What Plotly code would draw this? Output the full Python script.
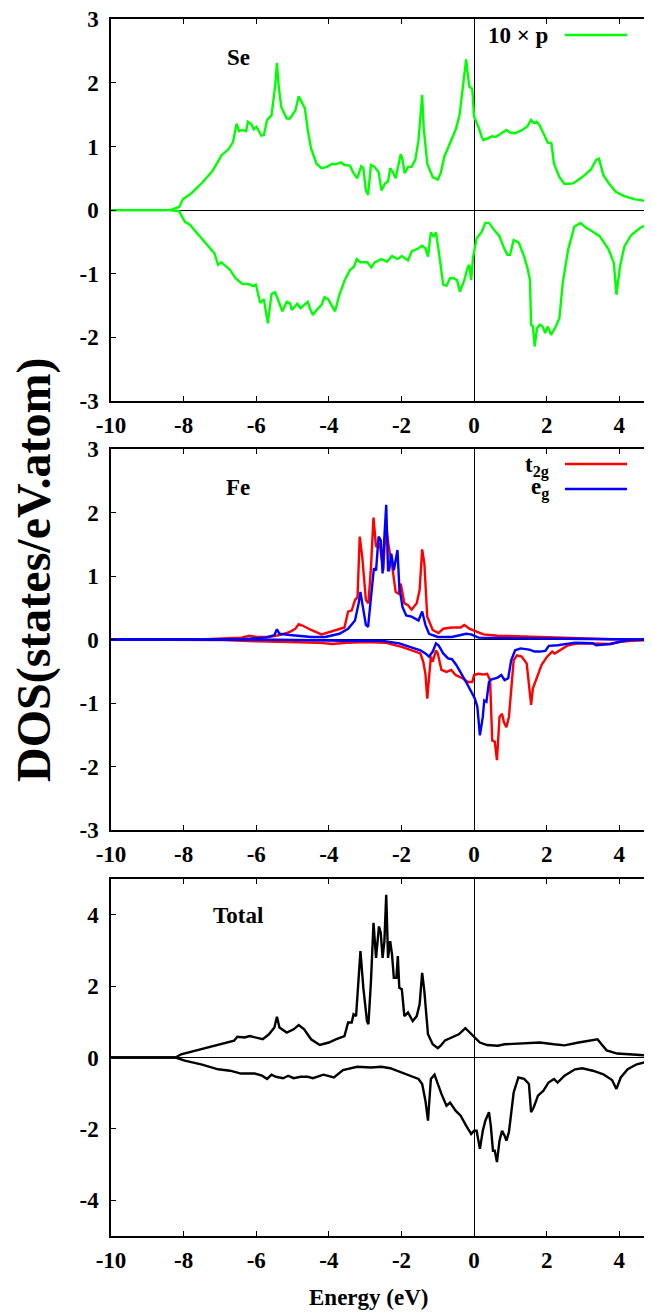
import plotly.graph_objects as go

# ---------------- data ----------------
se_up_e = [-10, -8.36, -8.22, -8.12, -8.02, -7.78, -7.49, -7.20, -6.96, -6.76, -6.64, -6.54, -6.47, -6.38, -6.28, -6.23,
           -6.13, -6.07, -5.99, -5.86, -5.79, -5.70, -5.58, -5.48, -5.43, -5.38, -5.31, -5.16, -5.07, -4.92, -4.83,
           -4.76, -4.66, -4.58, -4.49, -4.34, -4.20, -4.05, -3.91, -3.81, -3.66, -3.57, -3.42, -3.32, -3.22, -3.11,
           -3.05, -2.98, -2.92, -2.84, -2.74, -2.63, -2.55, -2.45, -2.37, -2.31, -2.24, -2.16, -2.11, -2.02, -1.97,
           -1.91, -1.82, -1.72, -1.62, -1.53, -1.43, -1.39, -1.29, -1.14, -1.00, -0.92, -0.82, -0.66, -0.51, -0.40,
           -0.32, -0.22, -0.17, -0.13, -0.05, 0.00, 0.12, 0.21, 0.26, 0.36, 0.50, 0.60, 0.75, 0.89, 0.99, 1.13, 1.33,
           1.47, 1.57, 1.64, 1.72, 1.80, 1.91, 2.03, 2.13, 2.20, 2.35, 2.49, 2.73, 2.98, 3.22, 3.36, 3.44, 3.56, 3.70,
           3.90, 4.14, 4.43, 4.67, 4.89]
se_up = [0, 0, 0.03, 0.05, 0.17, 0.27, 0.43, 0.62, 0.86, 0.96, 1.07, 1.36, 1.24, 1.26, 1.24, 1.39,
         1.35, 1.27, 1.31, 1.17, 1.18, 1.42, 1.49, 1.94, 2.31, 1.94, 1.62, 1.44, 1.44, 1.57, 1.79,
         1.70, 1.60, 1.26, 0.97, 0.73, 0.66, 0.68, 0.73, 0.72, 0.75, 0.71, 0.70, 0.58, 0.50, 0.69,
         0.66, 0.31, 0.24, 0.71, 0.68, 0.60, 0.31, 0.42, 0.45, 0.66, 0.60, 0.50, 0.66, 0.88, 0.79,
         0.58, 0.68, 0.68, 0.79, 1.10, 1.81, 1.31, 0.73, 0.52, 0.48, 0.58, 0.84, 1.05, 1.26, 1.49,
         1.89, 2.37, 2.12, 1.94, 1.91, 1.47, 1.31, 1.15, 1.10, 1.13, 1.16, 1.15, 1.21, 1.26, 1.22, 1.21, 1.26,
         1.32, 1.42, 1.37, 1.39, 1.34, 1.21, 1.06, 1.05, 0.73, 0.52, 0.41, 0.42, 0.52, 0.64, 0.79, 0.81, 0.55, 0.43,
         0.29, 0.22, 0.17, 0.15, 0.12]

se_dn_e = [-10, -8.36, -8.12, -7.97, -7.83, -7.63, -7.39, -7.15, -7.05, -6.96, -6.72, -6.57, -6.38, -6.23, -6.09, -6.01,
           -5.89, -5.79, -5.68, -5.58, -5.48, -5.36, -5.28, -5.16, -5.07, -5.02, -4.87, -4.78, -4.68, -4.58, -4.51,
           -4.44, -4.34, -4.20, -4.12, -4.02, -3.83, -3.71, -3.57, -3.42, -3.31, -3.23, -3.13, -2.94, -2.83, -2.74,
           -2.55, -2.40, -2.26, -2.11, -1.99, -1.82, -1.72, -1.53, -1.43, -1.34, -1.27, -1.19, -1.11, -1.05, -0.98,
           -0.85, -0.76, -0.66, -0.56, -0.47, -0.39, -0.27, -0.17, -0.13, -0.08, -0.03, 0.07, 0.21, 0.31, 0.41, 0.55,
           0.70, 0.84, 0.92, 0.99, 1.09, 1.23, 1.38, 1.47, 1.54, 1.57, 1.62, 1.67, 1.73, 1.81, 1.89, 1.96, 2.03, 2.12,
           2.25, 2.35, 2.44, 2.59, 2.76, 2.93, 3.07, 3.27, 3.46, 3.70, 3.85, 3.92, 4.02, 4.14, 4.33, 4.57, 4.89]
se_dn = [0, 0, -0.02, -0.18, -0.23, -0.36, -0.52, -0.68, -0.86, -0.82, -0.94, -1.07, -1.16, -1.16, -1.19, -1.17,
         -1.46, -1.40, -1.78, -1.32, -1.29, -1.49, -1.59, -1.44, -1.46, -1.57, -1.47, -1.54, -1.49, -1.44, -1.56,
         -1.65, -1.57, -1.49, -1.37, -1.40, -1.59, -1.33, -1.11, -0.94, -0.89, -0.77, -0.82, -0.82, -0.90, -0.82,
         -0.77, -0.81, -0.72, -0.77, -0.72, -0.79, -0.65, -0.60, -0.56, -0.60, -0.73, -0.35, -0.41, -0.35, -0.62,
         -1.17, -1.19, -1.07, -1.07, -1.10, -1.28, -1.10, -0.89, -0.86, -1.10, -0.75, -0.44, -0.34, -0.20, -0.20, -0.31,
         -0.41, -0.62, -0.70, -0.70, -0.47, -0.51, -0.73, -0.91, -1.10, -1.80, -1.83, -2.14, -1.86, -1.80, -1.83, -1.93, -1.83, -1.96,
         -1.83, -1.70, -1.15, -0.62, -0.26, -0.20, -0.27, -0.34, -0.41, -0.61, -0.83, -1.33, -0.88, -0.57, -0.39, -0.28, -0.19]

t2g_up_e = [-10, -7.39, -6.42, -6.18, -5.99, -5.65, -5.36, -5.07, -4.92, -4.83, -4.73, -4.49, -4.20, -3.95, -3.71, -3.57,
            -3.47, -3.37, -3.28, -3.21, -3.15, -3.08, -2.98, -2.91, -2.84, -2.77, -2.70, -2.60, -2.50, -2.43, -2.35,
            -2.26, -2.16, -2.08, -2.02, -1.92, -1.82, -1.72, -1.58, -1.50, -1.43, -1.37, -1.29, -1.14, -0.98, -0.85,
            -0.61, -0.37, -0.27, -0.13, 0.00, 0.26, 0.65, 1.33, 1.91, 2.78, 3.75, 4.89]
t2g_up = [0, 0.005, 0.03, 0.06, 0.04, 0.04, 0.07, 0.12, 0.17, 0.24, 0.22, 0.15, 0.08, 0.12, 0.17, 0.19,
          0.44, 0.46, 0.62, 0.67, 1.62, 1.30, 0.62, 0.57, 1.14, 1.92, 1.46, 1.51, 1.09, 1.83, 1.46,
          1.17, 0.75, 0.72, 0.88, 0.57, 0.54, 0.47, 0.57, 0.78, 1.42, 1.20, 0.36, 0.15, 0.10, 0.17,
          0.19, 0.19, 0.23, 0.17, 0.14, 0.08, 0.06, 0.05, 0.04, 0.02, 0.005, 0]

eg_up_e = [-10, -6.42, -5.75, -5.50, -5.43, -5.36, -5.07, -4.49, -4.10, -3.71, -3.47, -3.28, -3.18, -3.13, -3.08, -2.98,
           -2.92, -2.84, -2.76, -2.70, -2.63, -2.57, -2.52, -2.47, -2.42, -2.37, -2.34, -2.28, -2.21, -2.11, -2.06,
           -1.97, -1.87, -1.72, -1.53, -1.43, -1.34, -1.24, -1.00, -0.61, -0.22, -0.08, 0.12, 0.84, 2.30, 4.89]
eg_up = [0, 0.005, 0.03, 0.07, 0.16, 0.09, 0.07, 0.04, 0.04, 0.09, 0.17, 0.30, 0.57, 0.75, 0.57, 0.23,
         0.20, 0.67, 1.12, 1.09, 1.62, 1.56, 1.04, 1.62, 2.12, 1.09, 1.09, 1.35, 1.09, 1.41, 0.83,
         0.51, 0.38, 0.36, 0.30, 0.44, 0.23, 0.09, 0.04, 0.04, 0.09, 0.08, 0.03, 0.02, 0.01, 0]

t2g_dn_e = [-10, -6.91, -5.94, -4.97, -4.29, -3.91, -3.52, -2.94, -2.45, -1.97, -1.68, -1.48, -1.40, -1.34, -1.29, -1.24,
            -1.19, -1.14, -1.05, -1.00, -0.90, -0.76, -0.63, -0.51, -0.32, -0.17, -0.05, 0.00, 0.12, 0.26, 0.36, 0.44,
            0.50, 0.57, 0.63, 0.70, 0.77, 0.82, 0.89, 0.96, 1.02, 1.09, 1.18, 1.31, 1.45, 1.52, 1.57, 1.62, 1.72,
            1.86, 2.01, 2.15, 2.22, 2.35, 2.59, 2.88, 3.27, 3.75, 3.99, 4.33, 4.89]
t2g_dn = [0, -0.01, -0.03, -0.04, -0.05, -0.07, -0.05, -0.04, -0.05, -0.12, -0.18, -0.22, -0.35, -0.54, -0.93, -0.64,
          -0.27, -0.35, -0.17, -0.22, -0.48, -0.51, -0.48, -0.56, -0.61, -0.67, -0.67, -0.56, -0.54, -0.55, -0.54, -0.64,
          -1.59, -1.61, -1.90, -1.22, -1.17, -1.30, -1.38, -1.22, -0.75, -0.33, -0.25, -0.27, -0.38, -0.75, -1.03, -0.77, -0.61,
          -0.40, -0.27, -0.19, -0.22, -0.17, -0.09, -0.06, -0.06, -0.07, -0.04, -0.02, -0.01]

eg_dn_e = [-10, -5.46, -3.52, -2.55, -2.06, -1.77, -1.48, -1.34, -1.24, -1.14, -1.05, -0.98, -0.85, -0.71, -0.61, -0.49,
           -0.37, -0.22, -0.08, 0.02, 0.09, 0.16, 0.24, 0.28, 0.34, 0.41, 0.47, 0.65, 0.75, 0.84, 0.94, 1.02, 1.13,
           1.28, 1.52, 1.67, 1.81, 1.96, 2.06, 2.30, 2.78, 3.27, 3.36, 3.75, 3.99, 4.23, 4.89]
eg_dn = [0, -0.005, -0.02, -0.02, -0.06, -0.12, -0.17, -0.22, -0.27, -0.19, -0.06, -0.09, -0.22, -0.30, -0.31, -0.40,
         -0.51, -0.67, -0.82, -0.93, -1.06, -1.51, -1.22, -0.96, -0.98, -0.67, -0.63, -0.60, -0.56, -0.64, -0.61, -0.33, -0.17,
         -0.14, -0.16, -0.19, -0.19, -0.18, -0.10, -0.09, -0.05, -0.06, -0.09, -0.07, -0.04, -0.01, 0]

tot_up_e = [-10, -8.22, -8.07, -7.68, -7.20, -6.86, -6.61, -6.52, -6.32, -6.18, -5.99, -5.82, -5.65, -5.50, -5.43, -5.36,
            -5.16, -4.97, -4.83, -4.68, -4.49, -4.25, -4.00, -3.81, -3.57, -3.47, -3.37, -3.32, -3.25, -3.13, -3.05,
            -2.95, -2.91, -2.84, -2.77, -2.70, -2.62, -2.57, -2.52, -2.47, -2.42, -2.37, -2.31, -2.26, -2.21, -2.14,
            -2.10, -2.06, -1.99, -1.92, -1.82, -1.69, -1.58, -1.50, -1.43, -1.37, -1.27, -1.14, -1.00, -0.92, -0.80,
            -0.61, -0.42, -0.24, -0.15, 0.00, 0.16, 0.36, 0.65, 0.84, 1.33, 1.81, 2.20, 2.49, 2.88, 3.22, 3.40, 3.51,
            3.65, 3.94, 4.43, 4.89]
tot_up = [0, 0, 0.09, 0.19, 0.30, 0.40, 0.47, 0.58, 0.56, 0.60, 0.56, 0.51, 0.65, 0.84, 1.14, 0.84,
          0.70, 0.79, 0.91, 0.79, 0.51, 0.35, 0.42, 0.51, 0.60, 0.98, 0.98, 1.21, 1.16, 2.98, 1.95,
          1.02, 0.93, 2.14, 3.77, 2.79, 3.67, 3.49, 2.79, 3.26, 4.56, 2.79, 3.26, 2.88, 2.23, 2.23,
          2.84, 1.95, 1.91, 1.16, 1.26, 1.02, 1.16, 1.49, 2.37, 1.86, 0.65, 0.37, 0.26, 0.33, 0.48,
          0.56, 0.65, 0.82, 0.73, 0.56, 0.42, 0.35, 0.33, 0.37, 0.39, 0.42, 0.37, 0.34, 0.42, 0.47, 0.51, 0.37,
          0.20, 0.11, 0.07, 0.05]

tot_dn_e = [-10, -8.22, -7.97, -7.49, -7.05, -6.72, -6.42, -6.04, -5.84, -5.70, -5.58, -5.46, -5.26, -5.12, -4.97, -4.78,
            -4.58, -4.44, -4.15, -3.86, -3.61, -3.22, -2.84, -2.55, -2.31, -2.06, -1.77, -1.53, -1.43, -1.34, -1.27,
            -1.19, -1.09, -1.00, -0.90, -0.76, -0.66, -0.51, -0.37, -0.22, -0.08, 0.00, 0.07, 0.16, 0.24, 0.31, 0.41,
            0.46, 0.52, 0.57, 0.63, 0.70, 0.77, 0.84, 0.89, 0.96, 1.09, 1.22, 1.38, 1.51, 1.57, 1.64, 1.76, 1.91,
            2.05, 2.20, 2.30, 2.49, 2.78, 2.98, 3.27, 3.56, 3.80, 3.92, 4.04, 4.23, 4.48, 4.89]
tot_dn = [0, 0, -0.09, -0.20, -0.33, -0.37, -0.45, -0.45, -0.51, -0.60, -0.48, -0.54, -0.58, -0.51, -0.58, -0.54,
          -0.54, -0.58, -0.48, -0.56, -0.35, -0.26, -0.28, -0.26, -0.30, -0.39, -0.51, -0.60, -0.74, -1.21, -1.77,
          -0.60, -0.48, -0.74, -1.02, -1.35, -1.26, -1.49, -1.63, -1.91, -2.14, -2.05, -2.05, -2.56, -2.05, -1.77, -1.53,
          -1.91, -2.61, -2.61, -2.93, -2.33, -2.05, -2.19, -2.33, -2.09, -0.98, -0.56, -0.60, -0.74, -1.53, -1.40, -1.07, -0.93,
          -0.70, -0.60, -0.70, -0.51, -0.33, -0.30, -0.37, -0.47, -0.63, -0.88, -0.56, -0.33, -0.19, -0.09]

x_ticks = [-10, -8, -6, -4, -2, 0, 2, 4]
y_ticks_se = [-3, -2, -1, 0, 1, 2, 3]
y_ticks_fe = [-3, -2, -1, 0, 1, 2, 3]
y_ticks_tot = [-4, -2, 0, 2, 4]

# ---------------- figure ----------------
# the page body has an 8 px margin: figure pixel = screen pixel - 8
OFF = 8
W, H = 644, 1305
ML, MR, MT, MB = 103, 0, 11, 77
PW, PH = W - ML - MR, H - MT - MB

def px(x):
    return (x - OFF - ML) / PW

def py(y):
    return 1 - (y - OFF - MT) / PH

FONT = "Liberation Serif, Times New Roman, serif"
GREEN, RED, BLUE, BLACK = "#00ff00", "#ff0000", "#0000ff", "#000000"
LW = 2.4

fig = go.Figure()

def add(xs, ys, color, axis):
    fig.add_trace(go.Scatter(x=xs, y=ys, mode="lines", line=dict(color=color, width=LW),
                             xaxis="x" + axis, yaxis="y" + axis, showlegend=False,
                             hoverinfo="skip"))

add(se_up_e, se_up, GREEN, "")
add(se_dn_e, se_dn, GREEN, "")
add(t2g_up_e, t2g_up, RED, "2")
add(t2g_dn_e, t2g_dn, RED, "2")
add(eg_up_e, eg_up, BLUE, "2")
add(eg_dn_e, eg_dn, BLUE, "2")
add(tot_up_e, tot_up, BLACK, "3")
add(tot_dn_e, tot_dn, BLACK, "3")

tickfont = dict(family=FONT, size=23, color="black")

def bold_labels(vals):
    return ["<b>%d</b>" % v for v in vals]

def xax(anchor):
    return dict(range=[-10, 4.90], domain=[0, 1], anchor=anchor, tickvals=x_ticks,
                ticktext=bold_labels(x_ticks), ticks="inside", ticklen=5, tickwidth=1.2,
                tickcolor="black", showline=True, linecolor="black", linewidth=1.5, mirror="ticks",
                showgrid=False, zeroline=True, zerolinecolor="black", zerolinewidth=1,
                tickfont=tickfont, ticklabelstandoff=3, ticklabeloverflow="allow")

def yax(rng, dom, vals, anchor):
    return dict(range=rng, domain=dom, anchor=anchor, tickvals=vals, ticktext=bold_labels(vals),
                ticks="inside", ticklen=5, tickwidth=1.2, tickcolor="black", showline=True,
                linecolor="black", linewidth=1.5, mirror=False, showgrid=False, zeroline=True,
                zerolinecolor="black", zerolinewidth=1, tickfont=tickfont, ticklabelstandoff=6,
                ticklabeloverflow="allow")

dom1 = [py(401), py(19.3)]
dom2 = [py(830), py(449)]
dom3 = [py(1236), py(879)]

fig.update_layout(
    width=W, height=H, margin=dict(l=ML, r=MR, t=MT, b=MB, autoexpand=False),
    paper_bgcolor="white", plot_bgcolor="white", showlegend=False,
    xaxis=xax("y"), yaxis=yax([-3, 3], dom1, y_ticks_se, "x"),
    xaxis2=xax("y2"), yaxis2=yax([-3, 3], dom2, y_ticks_fe, "x2"),
    xaxis3=xax("y3"), yaxis3=yax([-5, 5], dom3, y_ticks_tot, "x3"),
)

def label(text, x, y, size=23, xanchor="center", angle=0):
    fig.add_annotation(text="<b>" + text + "</b>", x=px(x), y=py(y), xref="paper", yref="paper",
                       showarrow=False, xanchor=xanchor, yanchor="middle", textangle=angle,
                       font=dict(family=FONT, size=size, color="black"))

label("Se", 238, 57)
label("Fe", 238, 487)
label("Total", 238, 915)
label("DOS(states/eV.atom)", 34, 570, size=48, angle=-90)
label("Energy (eV)", 368, 1297, size=23)

# legends
label("10 × p", 550, 36, xanchor="right")
label("t<sub>2g</sub>", 551, 466, xanchor="right")
label("e<sub>g</sub>", 551, 488, xanchor="right")
for (yy, col) in [(35, GREEN), (464, RED), (489, BLUE)]:
    fig.add_shape(type="line", xref="paper", yref="paper", x0=px(565), x1=px(627), y0=py(yy), y1=py(yy),
                  line=dict(color=col, width=LW))

fig.write_html("out.html")
